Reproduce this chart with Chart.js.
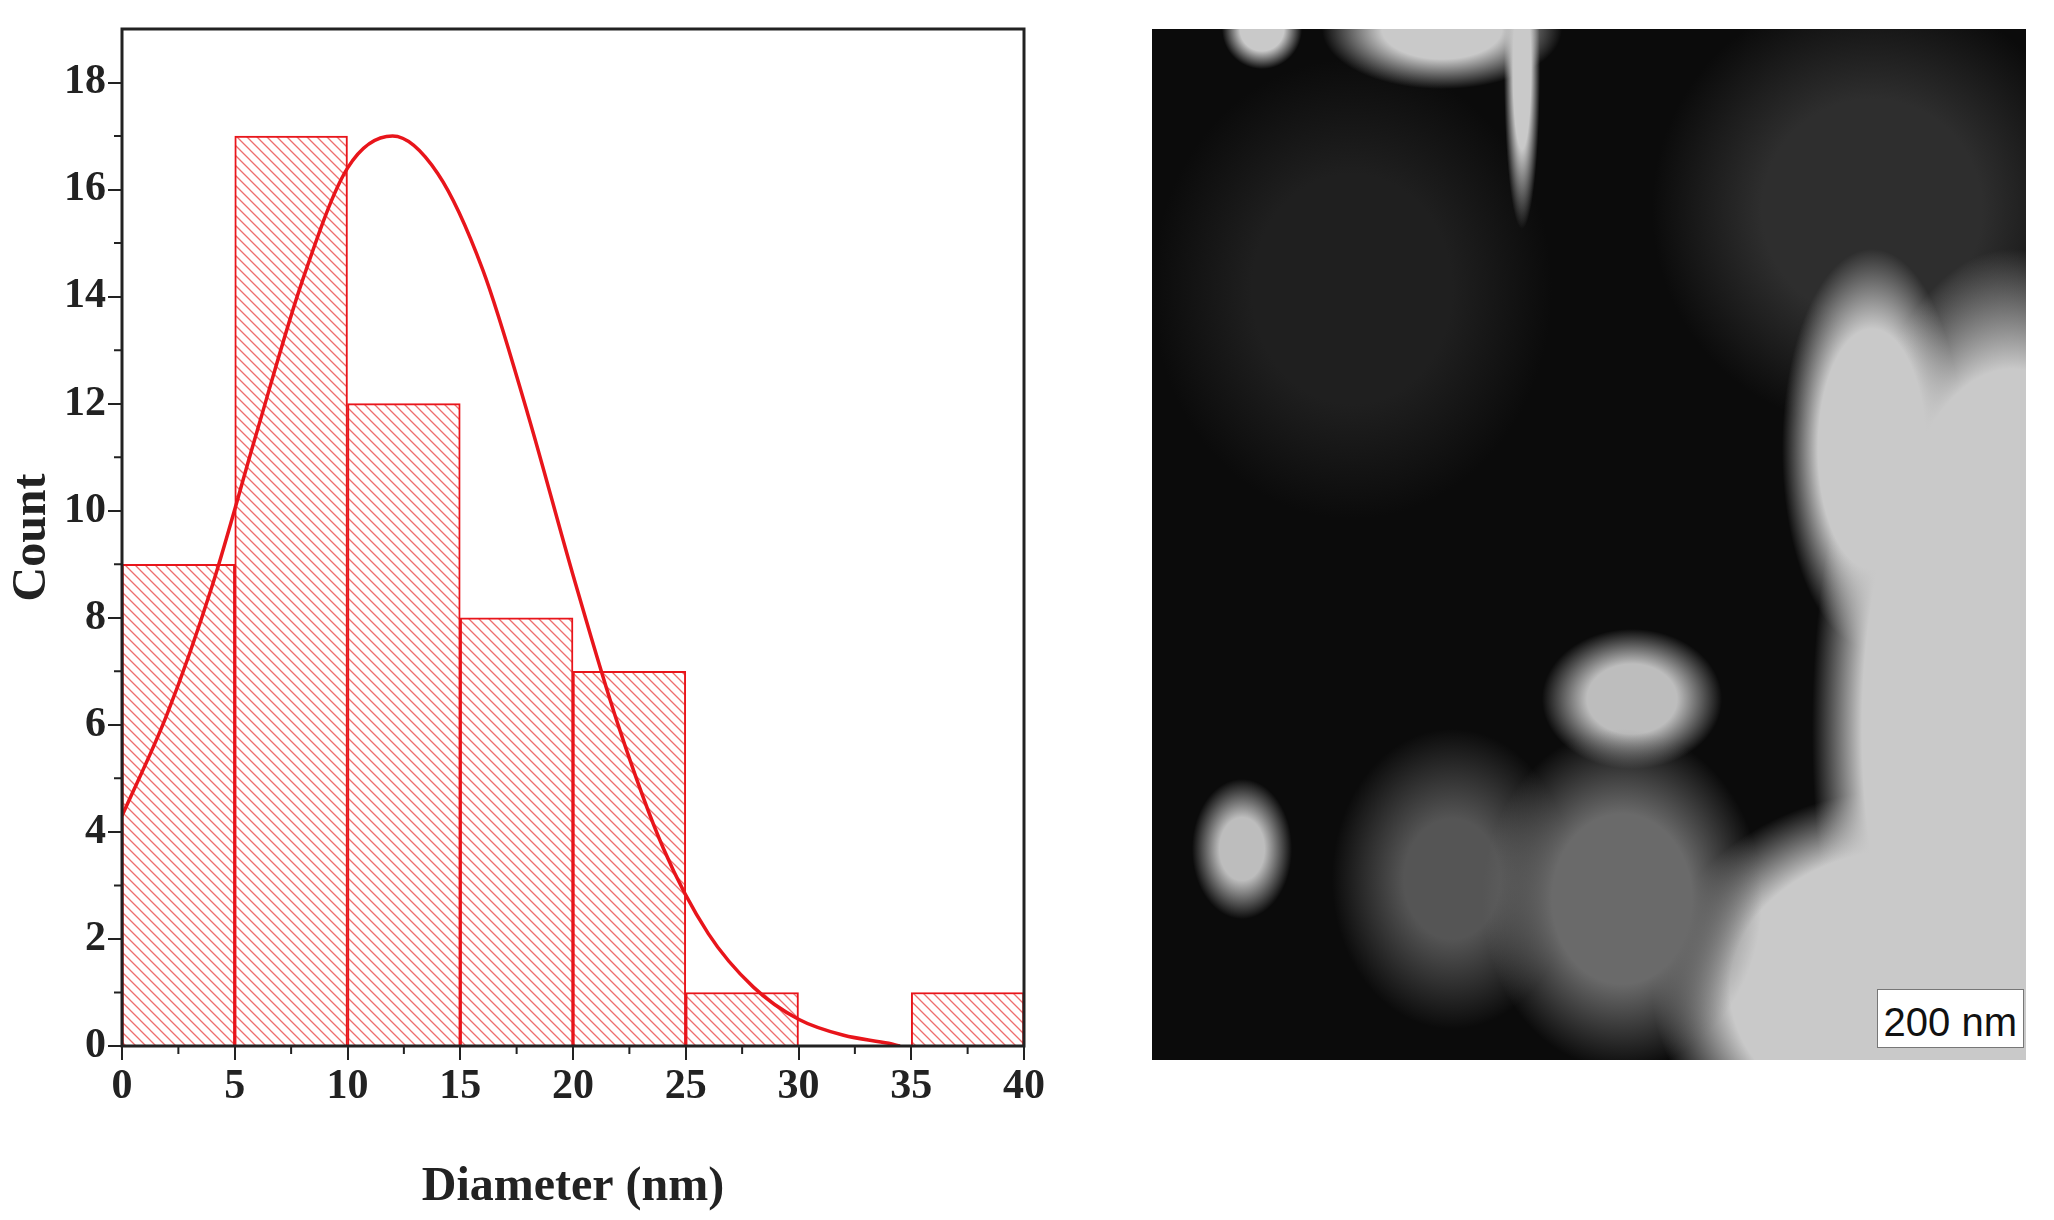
<!DOCTYPE html>
<html>
<head>
<meta charset="utf-8">
<script src="https://cdn.jsdelivr.net/npm/chart.js@4.4.0/dist/chart.umd.min.js"></script>
<style>
  body { margin: 0; background: #fff; width: 2054px; height: 1220px; position: relative; overflow: hidden; }
  #wrap { position: absolute; left: 0; top: 0; width: 1100px; height: 1220px; }
  #tem {
    position: absolute; left: 1152px; top: 29px; width: 874px; height: 1031px;
    background:
      radial-gradient(ellipse 140px 170px at 470px 870px, #6a6a6a 50%, rgba(90,90,90,0) 100%),
      radial-gradient(ellipse 120px 150px at 300px 850px, #555 40%, rgba(80,80,80,0) 100%),
      radial-gradient(ellipse 200px 480px at 860px 700px, #c9c9c9 75%, rgba(201,201,201,0) 100%),
      radial-gradient(ellipse 260px 200px at 760px 960px, #c9c9c9 70%, rgba(201,201,201,0) 100%),
      radial-gradient(ellipse 90px 200px at 720px 420px, #c9c9c9 60%, rgba(201,201,201,0) 100%),
      radial-gradient(ellipse 90px 70px at 480px 670px, #bdbdbd 50%, rgba(201,201,201,0) 100%),
      radial-gradient(ellipse 50px 70px at 90px 820px, #bdbdbd 45%, rgba(201,201,201,0) 100%),
      radial-gradient(ellipse 40px 40px at 110px 0px, #c9c9c9 55%, rgba(201,201,201,0) 100%),
      radial-gradient(ellipse 120px 60px at 290px 0px, #c9c9c9 50%, rgba(201,201,201,0) 100%),
      radial-gradient(ellipse 18px 160px at 370px 40px, #c9c9c9 50%, rgba(201,201,201,0) 100%),
      radial-gradient(ellipse 220px 220px at 720px 180px, #2e2e2e 50%, rgba(40,40,40,0) 100%),
      radial-gradient(ellipse 200px 230px at 200px 260px, #1f1f1f 50%, rgba(30,30,30,0) 100%),
      #0b0b0b;
  }
  #bar { position: absolute; right: 2px; bottom: 12px; background: #fff; border: 1px solid #777;
    font: 40px "Liberation Sans", Arial, sans-serif; padding: 10px 6px 2px 6px; color: #111; }
</style>
</head>
<body>
<div id="wrap"><canvas id="histChart" width="1100" height="1220"></canvas></div>
<div id="tem"><div id="bar">200 nm</div></div>
<script>
// histogram bins (centres) and counts
const binCentres = [2.5, 7.5, 12.5, 17.5, 22.5, 27.5, 32.5, 37.5];
const counts = [9, 17, 12, 8, 7, 1, 0, 1];
// fitted curve
const curveX = [0, 2, 4, 6, 8, 10, 12, 14, 16, 18, 20, 22, 24, 26, 28, 30, 32, 34, 34.5];
const curveY = [4.3, 6.2, 8.6, 11.5, 14.3, 16.4, 17.0, 16.3, 14.5, 11.8, 8.8, 6.0, 3.7, 2.1, 1.1, 0.5, 0.2, 0.05, 0];
const xTicks = [0, 5, 10, 15, 20, 25, 30, 35, 40];
const yTicks = [0, 2, 4, 6, 8, 10, 12, 14, 16, 18];

const red = '#e8151b';

function hatch() {
    const c = document.createElement('canvas');
    c.width = 10; c.height = 10;
    const g = c.getContext('2d');
    g.fillStyle = '#fff';
    g.fillRect(0, 0, 10, 10);
    g.strokeStyle = 'rgba(232,60,60,0.75)';
    g.lineWidth = 1.3;
    g.beginPath();
    g.moveTo(0, 0); g.lineTo(10, 10);
    g.moveTo(-5, 5); g.lineTo(5, 15);
    g.moveTo(5, -5); g.lineTo(15, 5);
    g.stroke();
    return g.createPattern(c, 'repeat');
}

// frame + minor ticks
const framePlugin = {
    id: 'frame',
    afterDraw(chart) {
        const { ctx, chartArea: a, scales } = chart;
        ctx.save();
        ctx.strokeStyle = '#222';
        ctx.lineWidth = 3;
        ctx.strokeRect(a.left, a.top, a.right - a.left, a.bottom - a.top);
        ctx.lineWidth = 2;
        ctx.beginPath();
        for (let v = 2.5; v < 40; v += 5) {
            const px = scales.x.getPixelForValue(v);
            ctx.moveTo(px, a.bottom); ctx.lineTo(px, a.bottom + 8);
        }
        for (let v = 1; v < 19; v += 2) {
            const py = scales.y.getPixelForValue(v);
            ctx.moveTo(a.left, py); ctx.lineTo(a.left - 8, py);
        }
        ctx.stroke();
        ctx.restore();
    }
};

const tickFont = { family: '"Liberation Serif", "Times New Roman", serif', size: 42, weight: 'bold' };
const titleFont = { family: '"Liberation Serif", "Times New Roman", serif', size: 48, weight: 'bold' };

new Chart(document.getElementById('histChart'), {
    type: 'bar',
    data: {
        datasets: [{
            type: 'line',
            data: curveX.map((x, i) => ({ x: x, y: curveY[i] })),
            borderColor: red,
            borderWidth: 3.5,
            pointRadius: 0,
            cubicInterpolationMode: 'monotone',
            fill: false,
            order: 0
        }, {
            type: 'bar',
            data: binCentres.map((x, i) => ({ x: x, y: counts[i] })),
            backgroundColor: hatch(),
            borderColor: red,
            borderWidth: 2,
            barPercentage: 1,
            categoryPercentage: 1,
            order: 1
        }]
    },
    options: {
        responsive: false,
        animation: false,
        devicePixelRatio: 1,
        layout: { padding: { top: 29, right: 76, left: 0, bottom: 0 } },
        plugins: { legend: { display: false }, tooltip: { enabled: false } },
        scales: {
            x: {
                type: 'linear', min: 0, max: 40, offset: false,
                afterBuildTicks: s => { s.ticks = xTicks.map(v => ({ value: v })); },
                afterFit: s => { s.height = 174; },
                grid: { drawOnChartArea: false, offset: false, tickLength: 14, color: '#222', lineWidth: 2 },
                border: { display: false },
                ticks: { font: tickFont, color: '#222', padding: 2, maxRotation: 0 },
                title: { display: true, text: 'Diameter (nm)', font: titleFont, color: '#222', padding: { top: 0, bottom: 4 } }
            },
            y: {
                min: 0, max: 19,
                afterBuildTicks: s => { s.ticks = yTicks.map(v => ({ value: v })); },
                afterFit: s => { s.width = 122; },
                grid: { drawOnChartArea: false, tickLength: 14, color: '#222', lineWidth: 2 },
                border: { display: false },
                ticks: { font: tickFont, color: '#222', padding: 2 },
                title: { display: true, text: 'Count', font: titleFont, color: '#222', padding: { bottom: 0 } }
            }
        }
    },
    plugins: [framePlugin]
});
</script>
</body>
</html>
